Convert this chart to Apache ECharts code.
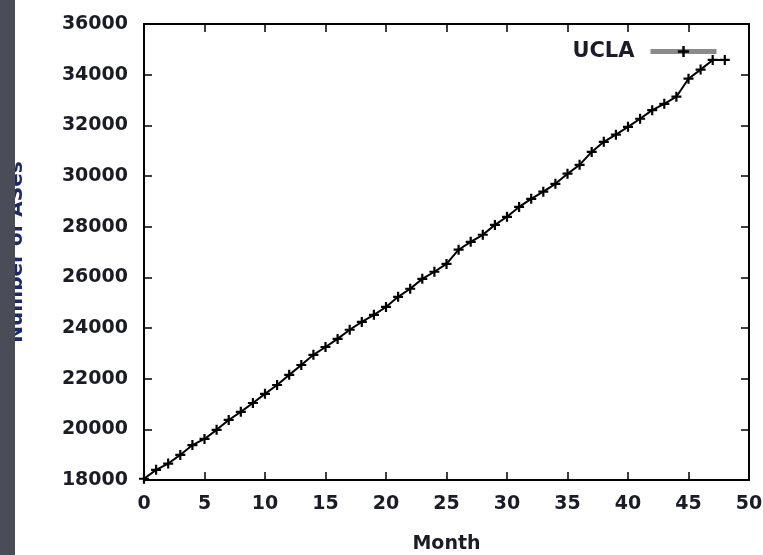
<!DOCTYPE html>
<html>
<head>
<meta charset="utf-8">
<script src="https://cdn.jsdelivr.net/npm/echarts@6/dist/echarts.min.js"></script>
<style>
html,body{margin:0;padding:0;background:#fff;}
#c{width:763px;height:555px;}
</style>
</head>
<body>
<div id="c"></div>
<script>
var seriesName = 'UCLA';
var months = [0,1,2,3,4,5,6,7,8,9,10,11,12,13,14,15,16,17,18,19,20,21,22,23,24,25,26,27,28,29,30,31,32,33,34,35,36,37,38,39,40,41,42,43,44,45,46,47,48];
var ases = [18050,18400,18650,18990,19380,19620,19980,20370,20690,21040,21400,21750,22150,22540,22940,23250,23570,23930,24240,24520,24830,25230,25550,25940,26220,26530,27090,27400,27680,28070,28390,28780,29100,29380,29690,30090,30440,30950,31350,31630,31940,32260,32600,32850,33130,33840,34200,34580,34580];
var xTicks = {min:0, max:50, interval:5};
var yTicks = {min:18000, max:36000, interval:2000};
var xName = 'Month';
var yName = 'Number of ASes';

var FONT = 'DejaVu Sans';
var TXT = '#1c1c28';
var plus = 'path://M-1.1,-5 L1.1,-5 L1.1,-1.1 L5,-1.1 L5,1.1 L1.1,1.1 L1.1,5 L-1.1,5 L-1.1,1.1 L-5,1.1 L-5,-1.1 L-1.1,-1.1 Z';

var axisCommon = {
  type:'value',
  axisLine:{show:true, onZero:false, lineStyle:{color:'#000', width:2}},
  axisTick:{show:true, inside:true, length:8, lineStyle:{color:'#000', width:1.5}},
  splitLine:{show:false}
};
var lbl = {fontFamily:FONT, fontSize:19, fontWeight:'bold', color:TXT};

var data = months.map(function(m,i){return [m, ases[i]];});

var chart = echarts.init(document.getElementById('c'));
chart.setOption({
  animation:false,
  backgroundColor:'#fff',
  grid:{left:144, right:14, top:24, bottom:75, containLabel:false, outerBoundsMode:'none'},
  legend:{
    right:39, top:36,
    align:'right',
    itemWidth:66, itemHeight:14, itemGap:10,
    textStyle:{fontFamily:FONT, fontSize:21, fontWeight:'bold', color:TXT, padding:[0,11,0,0]},
    lineStyle:{color:'#8a8a8a', width:5},
    itemStyle:{color:'#000'},
    data:[seriesName]
  },
  xAxis:[
    Object.assign({}, axisCommon, {
      position:'bottom', min:xTicks.min, max:xTicks.max, interval:xTicks.interval,
      name:xName, nameLocation:'middle', nameGap:55,
      nameTextStyle:lbl,
      axisLabel:Object.assign({margin:15, formatter:function(v){return String(v);}}, lbl)
    }),
    Object.assign({}, axisCommon, {
      position:'top', min:xTicks.min, max:xTicks.max, interval:xTicks.interval,
      axisLabel:{show:false}
    })
  ],
  yAxis:[
    Object.assign({}, axisCommon, {
      position:'left', min:yTicks.min, max:yTicks.max, interval:yTicks.interval,
      name:yName, nameLocation:'middle', nameGap:117,
      nameTextStyle:{fontFamily:FONT, fontSize:20, fontWeight:'bold', color:'#1a2a6a'},
      axisLabel:Object.assign({margin:16, formatter:function(v){return String(v);}}, lbl)
    }),
    Object.assign({}, axisCommon, {
      position:'right', min:yTicks.min, max:yTicks.max, interval:yTicks.interval,
      axisLabel:{show:false}
    })
  ],
  graphic:[{
    type:'rect', left:0, top:0, z:1000,
    shape:{x:0, y:0, width:15, height:555},
    style:{fill:'#4a4d57'}
  }],
  series:[{
    name:seriesName,
    type:'line',
    xAxisIndex:0, yAxisIndex:0,
    data:data,
    symbol:plus,
    symbolSize:10,
    showAllSymbol:true,
    itemStyle:{color:'#000'},
    lineStyle:{color:'#000', width:2}
  }]
});
</script>
</body>
</html>
